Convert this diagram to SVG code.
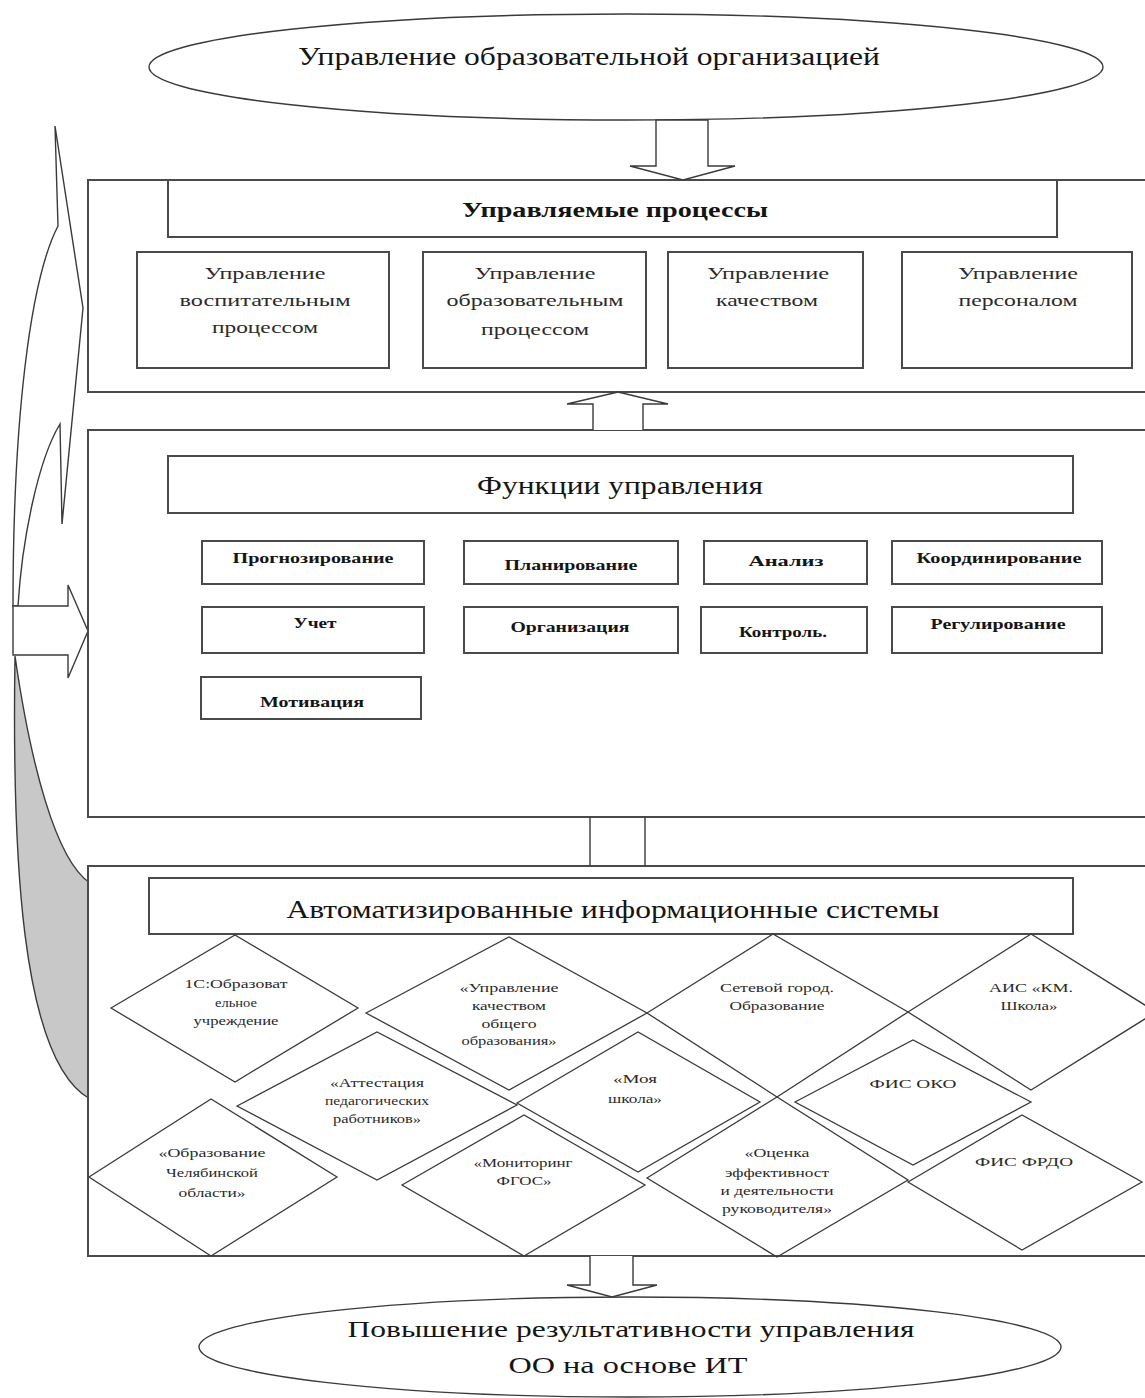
<svg xmlns="http://www.w3.org/2000/svg" width="1145" height="1398" viewBox="0 0 1145 1398">
<defs>
<style>
.bg{fill:#fff}
.box{fill:#fff;stroke:#4a4a4a;stroke-width:2}
.ln{fill:#fff;stroke:#3a3a3a;stroke-width:1.4}
.dm{fill:none;stroke:#3a3a3a;stroke-width:1.3}
.t{font-family:"Liberation Serif","Times New Roman",serif;fill:#151515;text-anchor:middle}
.b{font-weight:bold}
.big{font-size:26px}
.pr{font-size:17px;fill:#2a2a2a}
.fn{font-size:14px;font-weight:bold}
.ds{font-size:13px;fill:#2a2a2a}
</style>
</defs>
<rect class="bg" x="0" y="0" width="1145" height="1398"/>

<g id="left-curved-arrow">
<path d="M15,656 C12,850 20,1060 90,1099 L90,883 C55,860 30,760 15,656 Z" fill="#c8c8c8" stroke="#3a3a3a" stroke-width="1.4"/>
<path class="ln" d="M13,606 C13,420 30,280 58,226 L55,126 L83,308 L62,524 L60,424 C38,460 22,540 18,606 Z"/>
<path class="ln" d="M13,606 L68,606 L68,585 L88,631 L68,678 L68,655 L13,655 Z"/>
</g>

<g id="node-top">
<ellipse class="ln" cx="626" cy="67" rx="477" ry="53"/>
<text class="t big" x="589" y="65" textLength="582" lengthAdjust="spacingAndGlyphs">Управление образовательной организацией</text>
</g>

<g id="node-processes">
<rect class="box" x="88" y="180" width="1075" height="212"/>
<rect class="box" x="168" y="180" width="889" height="57"/>
<text class="t b" x="615" y="217" font-size="22" textLength="306" lengthAdjust="spacingAndGlyphs">Управляемые процессы</text>
<g id="proc-1">
<rect class="box" x="137" y="252" width="252" height="116"/>
<text class="t pr" x="265" y="279" textLength="121" lengthAdjust="spacingAndGlyphs">Управление</text>
<text class="t pr" x="265" y="306" textLength="171" lengthAdjust="spacingAndGlyphs">воспитательным</text>
<text class="t pr" x="265" y="333" textLength="106" lengthAdjust="spacingAndGlyphs">процессом</text>
</g>
<g id="proc-2">
<rect class="box" x="423" y="252" width="223" height="116"/>
<text class="t pr" x="535" y="279" textLength="121" lengthAdjust="spacingAndGlyphs">Управление</text>
<text class="t pr" x="535" y="306" textLength="177" lengthAdjust="spacingAndGlyphs">образовательным</text>
<text class="t pr" x="535" y="335" textLength="108" lengthAdjust="spacingAndGlyphs">процессом</text>
</g>
<g id="proc-3">
<rect class="box" x="668" y="252" width="195" height="116"/>
<text class="t pr" x="768" y="279" textLength="122" lengthAdjust="spacingAndGlyphs">Управление</text>
<text class="t pr" x="767" y="306" textLength="102" lengthAdjust="spacingAndGlyphs">качеством</text>
</g>
<g id="proc-4">
<rect class="box" x="902" y="252" width="230" height="116"/>
<text class="t pr" x="1018" y="279" textLength="120" lengthAdjust="spacingAndGlyphs">Управление</text>
<text class="t pr" x="1018" y="306" textLength="119" lengthAdjust="spacingAndGlyphs">персоналом</text>
</g>
</g>

<g id="node-functions">
<rect class="box" x="88" y="430" width="1075" height="387"/>
<rect class="box" x="168" y="456" width="905" height="57"/>
<text class="t big" x="620" y="494" textLength="286" lengthAdjust="spacingAndGlyphs">Функции управления</text>
<g id="f-prognoz"><rect class="box" x="202" y="541" width="222" height="43"/><text class="t fn" x="313" y="563" textLength="161" lengthAdjust="spacingAndGlyphs">Прогнозирование</text></g>
<g id="f-plan"><rect class="box" x="464" y="541" width="214" height="43"/><text class="t fn" x="571" y="570" textLength="133" lengthAdjust="spacingAndGlyphs">Планирование</text></g>
<g id="f-analiz"><rect class="box" x="704" y="541" width="163" height="43"/><text class="t fn" x="786" y="566" textLength="75" lengthAdjust="spacingAndGlyphs">Анализ</text></g>
<g id="f-coord"><rect class="box" x="892" y="541" width="210" height="43"/><text class="t fn" x="999" y="563" textLength="165" lengthAdjust="spacingAndGlyphs">Координирование</text></g>
<g id="f-uchet"><rect class="box" x="202" y="607" width="222" height="46"/><text class="t fn" x="315" y="628" textLength="43" lengthAdjust="spacingAndGlyphs">Учет</text></g>
<g id="f-org"><rect class="box" x="464" y="607" width="214" height="46"/><text class="t fn" x="570" y="632" textLength="119" lengthAdjust="spacingAndGlyphs">Организация</text></g>
<g id="f-kontrol"><rect class="box" x="701" y="607" width="166" height="46"/><text class="t fn" x="783" y="637" textLength="88" lengthAdjust="spacingAndGlyphs">Контроль.</text></g>
<g id="f-reg"><rect class="box" x="892" y="607" width="210" height="46"/><text class="t fn" x="998" y="629" textLength="135" lengthAdjust="spacingAndGlyphs">Регулирование</text></g>
<g id="f-motiv"><rect class="box" x="201" y="677" width="220" height="42"/><text class="t fn" x="312" y="707" textLength="104" lengthAdjust="spacingAndGlyphs">Мотивация</text></g>
</g>

<g id="node-ais">
<rect class="box" x="88" y="866" width="1075" height="390"/>
<rect class="box" x="149" y="878" width="924" height="56"/>
<text class="t big" x="613" y="918" textLength="653" lengthAdjust="spacingAndGlyphs">Автоматизированные информационные системы</text>
<g id="d-1c">
<polygon class="dm" points="111,1008 235,935 358,1008 235,1082"/>
<text class="t ds" x="236" y="988" textLength="103" lengthAdjust="spacingAndGlyphs">1С:Образоват</text>
<text class="t ds" x="236" y="1007" textLength="42" lengthAdjust="spacingAndGlyphs">ельное</text>
<text class="t ds" x="236" y="1025" textLength="85" lengthAdjust="spacingAndGlyphs">учреждение</text>
</g>
<g id="d-ukoo">
<polygon class="dm" points="366,1013 509,937 647,1013 509,1090"/>
<text class="t ds" x="509" y="992" textLength="99" lengthAdjust="spacingAndGlyphs">«Управление</text>
<text class="t ds" x="509" y="1010" textLength="74" lengthAdjust="spacingAndGlyphs">качеством</text>
<text class="t ds" x="509" y="1028" textLength="55" lengthAdjust="spacingAndGlyphs">общего</text>
<text class="t ds" x="509" y="1045" textLength="95" lengthAdjust="spacingAndGlyphs">образования»</text>
</g>
<g id="d-setevoy">
<polygon class="dm" points="647,1013 773,934 908,1012 777,1097"/>
<text class="t ds" x="777" y="992" textLength="114" lengthAdjust="spacingAndGlyphs">Сетевой город.</text>
<text class="t ds" x="777" y="1010" textLength="95" lengthAdjust="spacingAndGlyphs">Образование</text>
</g>
<g id="d-km">
<polygon class="dm" points="908,1012 1031,934 1156,1012 1031,1090"/>
<text class="t ds" x="1031" y="992" textLength="84" lengthAdjust="spacingAndGlyphs">АИС «КМ.</text>
<text class="t ds" x="1029" y="1010" textLength="57" lengthAdjust="spacingAndGlyphs">Школа»</text>
</g>
<g id="d-attest">
<polygon class="dm" points="237,1106 377,1032 517,1105 377,1180"/>
<text class="t ds" x="377" y="1087" textLength="94" lengthAdjust="spacingAndGlyphs">«Аттестация</text>
<text class="t ds" x="377" y="1105" textLength="104" lengthAdjust="spacingAndGlyphs">педагогических</text>
<text class="t ds" x="377" y="1123" textLength="88" lengthAdjust="spacingAndGlyphs">работников»</text>
</g>
<g id="d-moya">
<polygon class="dm" points="517,1103 638,1032 760,1102 638,1172"/>
<text class="t ds" x="635" y="1083" font-size="15" textLength="44" lengthAdjust="spacingAndGlyphs">«Моя</text>
<text class="t ds" x="635" y="1103" textLength="54" lengthAdjust="spacingAndGlyphs">школа»</text>
</g>
<g id="d-oko">
<polygon class="dm" points="795,1102 913,1040 1031,1102 913,1165"/>
<text class="t ds" x="913" y="1088" textLength="87" lengthAdjust="spacingAndGlyphs">ФИС ОКО</text>
</g>
<g id="d-chel">
<polygon class="dm" points="89,1177 211,1099 337,1177 211,1256"/>
<text class="t ds" x="212" y="1157" textLength="107" lengthAdjust="spacingAndGlyphs">«Образование</text>
<text class="t ds" x="212" y="1177" textLength="92" lengthAdjust="spacingAndGlyphs">Челябинской</text>
<text class="t ds" x="212" y="1197" textLength="67" lengthAdjust="spacingAndGlyphs">области»</text>
</g>
<g id="d-fgos">
<polygon class="dm" points="402,1185 524,1115 645,1185 524,1256"/>
<text class="t ds" x="523" y="1167" textLength="99" lengthAdjust="spacingAndGlyphs">«Мониторинг</text>
<text class="t ds" x="524" y="1185" textLength="55" lengthAdjust="spacingAndGlyphs">ФГОС»</text>
</g>
<g id="d-ocenka">
<polygon class="dm" points="647,1178 777,1097 908,1180 777,1257"/>
<text class="t ds" x="777" y="1157" textLength="65" lengthAdjust="spacingAndGlyphs">«Оценка</text>
<text class="t ds" x="777" y="1177" textLength="104" lengthAdjust="spacingAndGlyphs">эффективност</text>
<text class="t ds" x="777" y="1195" textLength="113" lengthAdjust="spacingAndGlyphs">и деятельности</text>
<text class="t ds" x="777" y="1213" textLength="110" lengthAdjust="spacingAndGlyphs">руководителя»</text>
</g>
<g id="d-frdo">
<polygon class="dm" points="908,1182 1022,1115 1142,1182 1022,1250"/>
<text class="t ds" x="1024" y="1166" textLength="98" lengthAdjust="spacingAndGlyphs">ФИС ФРДО</text>
</g>
</g>

<g id="node-bottom">
<ellipse class="ln" cx="630" cy="1347" rx="431" ry="50"/>
<text class="t" font-size="24" x="631" y="1337" textLength="567" lengthAdjust="spacingAndGlyphs">Повышение результативности управления</text>
<text class="t" font-size="24" x="628" y="1373" textLength="239" lengthAdjust="spacingAndGlyphs">ОО на основе ИТ</text>
</g>

<g id="connectors">
<path class="ln" d="M656,120 L708,120 L708,166 L735,166 L683,180 L630,166 L656,166 Z"/>
<path class="ln" d="M593,430 L593,404 L567,404 L618,392 L668,404 L643,404 L643,430"/>
<path class="ln" d="M590,817 L590,866 M645,817 L645,866"/>
<path class="ln" d="M590,1256 L590,1285 L567,1285 L612,1297 L657,1285 L633,1285 L633,1256"/>
</g>
</svg>
